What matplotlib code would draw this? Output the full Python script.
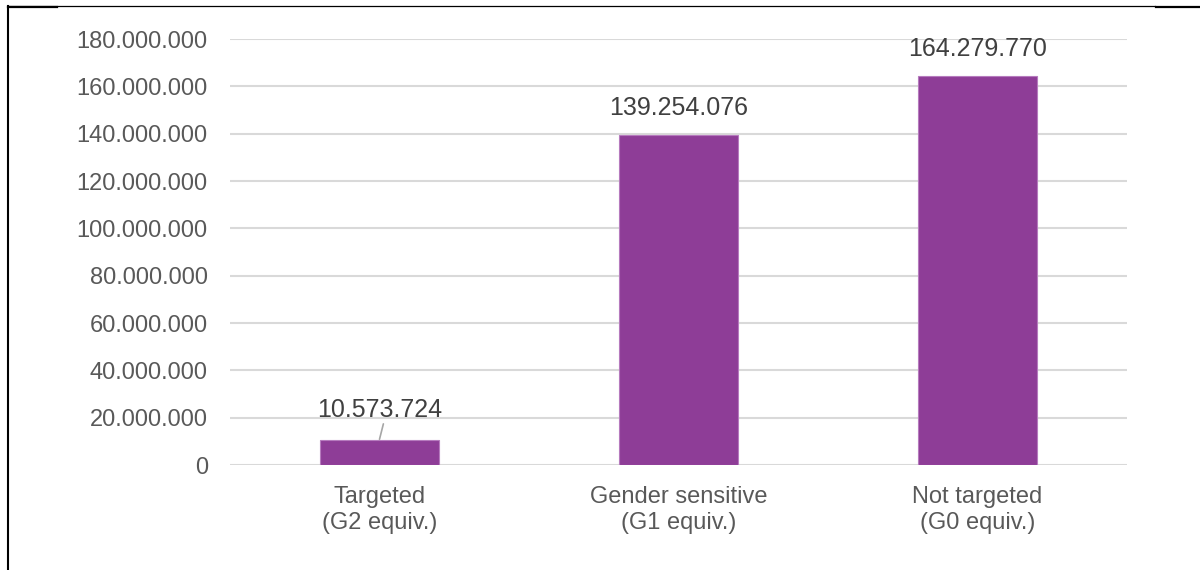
import matplotlib
matplotlib.use("Agg")
import matplotlib.pyplot as plt
from matplotlib.lines import Line2D
from matplotlib.ticker import FuncFormatter

categories = ["Targeted\n(G2 equiv.)", "Gender sensitive\n(G1 equiv.)", "Not targeted\n(G0 equiv.)"]
values = [10573724, 139254076, 164279770]
yticks = [0, 20000000, 40000000, 60000000, 80000000, 100000000, 120000000, 140000000, 160000000, 180000000]

plt.rcParams['font.family'] = ['Liberation Sans', 'DejaVu Sans']

def fmt(v):
    return f"{int(v):,}".replace(",", ".")

W, H = 1200, 570
fig = plt.figure(figsize=(W / 100, H / 100), dpi=100)
ax = fig.add_axes([230 / W, 1 - 465 / H, (1127 - 230) / W, (465 - 39) / H])

x = list(range(len(categories)))
ax.bar(x, values, width=0.4, color="#8E3D97", edgecolor="#B67BBE", linewidth=0.8, zorder=3)
ax.set_xlim(-0.5, len(categories) - 0.5)
ax.set_ylim(0, 180000000)
ax.set_yticks(yticks)
ax.yaxis.set_major_formatter(FuncFormatter(lambda v, p: fmt(v)))
ax.set_xticks(x)
ax.set_xticklabels(categories, fontsize=17, color="#595959", linespacing=1.22)
ax.tick_params(axis="y", labelsize=17, labelcolor="#595959", length=0, pad=16)
ax.tick_params(axis="x", length=0, pad=15)
ax.grid(axis="y", color="#D9D9D9", linewidth=1.5, zorder=0)
for s in ax.spines.values():
    s.set_visible(False)

for i, v in enumerate(values):
    off = 13 if i == 0 else 11
    ax.annotate(fmt(v), xy=(i, v), xytext=(0, off), textcoords="offset points",
                ha="center", va="bottom", fontsize=18, color="#404040")
    if i == 0:
        ax.annotate("", xy=(i, v + 300000), xytext=(i + 0.013, v + 6800000),
                    arrowprops=dict(arrowstyle="-", color="#A6A6A6", lw=1.2,
                                    shrinkA=0, shrinkB=0))

# frame remnants
fig.add_artist(Line2D([8 / W, 8 / W], [0, 1 - 6 / H], transform=fig.transFigure, color="black", lw=1.5))
fig.add_artist(Line2D([8 / W, 1155 / W], [1 - 6 / H, 1 - 6 / H], transform=fig.transFigure, color="black", lw=0.9))
fig.add_artist(Line2D([8 / W, 57 / W], [1 - 6.5 / H, 1 - 6.5 / H], transform=fig.transFigure, color="black", lw=1.6))
fig.add_artist(Line2D([1156 / W, 1], [1 - 6.5 / H, 1 - 6.5 / H], transform=fig.transFigure, color="black", lw=1.6))

fig.savefig("out.png", dpi=100)
